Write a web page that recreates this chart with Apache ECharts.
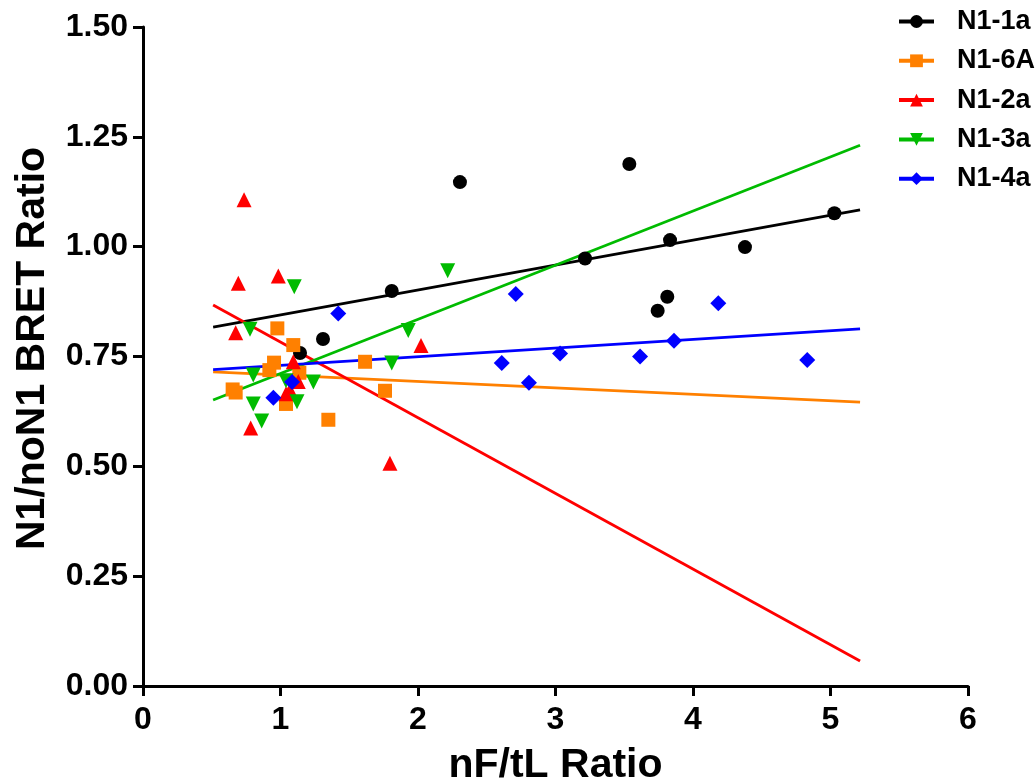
<!DOCTYPE html>
<html>
<head>
<meta charset="utf-8">
<script src="https://cdn.jsdelivr.net/npm/echarts@6/dist/echarts.min.js"></script>
<style>
html,body{margin:0;padding:0;background:#fff;overflow:hidden;}
#chart{width:1035px;height:781px;}
</style>
</head>
<body>
<div id="chart"></div>
<script>
// ---- data ----
var seriesNames = ['N1-1a', 'N1-6A', 'N1-2a', 'N1-3a', 'N1-4a'];
var xTicks = [0, 1, 2, 3, 4, 5, 6];
var yTicks = [0, 0.25, 0.5, 0.75, 1.0, 1.25, 1.5];

var n1_1a = [[1.142,0.758],[1.309,0.790],[1.809,0.899],[2.305,1.147],[3.215,0.973],[3.537,1.188],[3.743,0.854],[3.813,0.886],[3.833,1.015],[4.378,0.999],[5.028,1.076]];
var n1_6A = [[0.652,0.675],[0.674,0.668],[0.977,0.814],[1.093,0.776],[0.953,0.736],[0.919,0.719],[1.137,0.713],[1.040,0.642],[1.348,0.606],[1.615,0.738],[1.760,0.672]];
var n1_2a = [[0.735,1.107],[0.693,0.917],[0.984,0.933],[0.674,0.804],[2.022,0.775],[1.796,0.507],[0.783,0.587],[1.093,0.738],[1.129,0.693],[1.069,0.674],[1.040,0.665]];
var n1_3a = [[1.100,0.909],[0.778,0.812],[1.929,0.809],[1.809,0.735],[0.802,0.708],[1.040,0.695],[1.239,0.692],[1.120,0.647],[0.802,0.642],[0.863,0.603],[2.216,0.945]];
var n1_4a = [[1.420,0.848],[0.948,0.656],[2.711,0.892],[2.609,0.735],[3.033,0.757],[2.807,0.690],[3.615,0.750],[3.862,0.786],[4.184,0.871],[4.831,0.742],[1.084,0.692]];

// regression lines: y at start and end of fitted x range
var fitX = [0.51, 5.215];
var fit1_1a = [0.817, 1.084];
var fit1_6A = [0.715, 0.646];
var fit1_2a = [0.867, 0.057];
var fit1_3a = [0.651, 1.231];
var fit1_4a = [0.720, 0.813];

// ---- styling ----
var colors = ['#000000', '#FF8000', '#FF0000', '#00BB00', '#0000FF'];
var symbols = ['circle', 'rect', 'triangle', 'triangle', 'diamond'];
var rotates = [0, 0, 0, 180, 0];
var sizes = [14, 14, 15, 15, 16];
var points = [n1_1a, n1_6A, n1_2a, n1_3a, n1_4a];
var fits = [fit1_1a, fit1_6A, fit1_2a, fit1_3a, fit1_4a];
var FONT = '"Liberation Sans", Arial, sans-serif';

var series = [];
seriesNames.forEach(function (name, i) {
  series.push({
    name: name,
    type: 'line',
    data: fitX.map(function (x, k) { return [x, fits[i][k]]; }),
    symbol: symbols[i],
    symbolRotate: rotates[i],
    showSymbol: false,
    lineStyle: { color: colors[i], width: 2.8 },
    itemStyle: { color: colors[i] },
    silent: true,
    animation: false,
    z: 2
  });
});
seriesNames.forEach(function (name, i) {
  series.push({
    name: name,
    type: 'scatter',
    data: points[i],
    symbol: symbols[i],
    symbolRotate: rotates[i],
    symbolSize: sizes[i],
    itemStyle: { color: colors[i], opacity: 1 },
    animation: false,
    z: 3
  });
});

var chart = echarts.init(document.getElementById('chart'), null, { renderer: 'canvas' });
chart.setOption({
  backgroundColor: '#ffffff',
  animation: false,
  grid: { left: 143, right: 67, top: 27, bottom: 95, containLabel: false, outerBoundsMode: 'none' },
  legend: {
    orient: 'vertical',
    left: 897,
    top: 8,
    padding: 0,
    itemWidth: 35,
    itemHeight: 16,
    itemGap: 12.3,
    data: seriesNames,
    lineStyle: { width: 4 },
    textStyle: { fontFamily: FONT, fontWeight: 'bold', fontSize: 27, color: '#000', padding: [0, 0, 0, 18] }
  },
  xAxis: {
    type: 'value',
    min: xTicks[0],
    max: xTicks[xTicks.length - 1],
    interval: 1,
    name: 'nF/tL Ratio',
    nameLocation: 'middle',
    nameGap: 59,
    nameTextStyle: { fontFamily: FONT, fontWeight: 'bold', fontSize: 41, color: '#000' },
    axisLine: { onZero: false, lineStyle: { color: '#000', width: 3 } },
    axisTick: { show: true, inside: false, length: 10, lineStyle: { color: '#000', width: 3 } },
    axisLabel: { margin: 18, fontFamily: FONT, fontWeight: 'bold', fontSize: 32, color: '#000' },
    splitLine: { show: false }
  },
  yAxis: {
    type: 'value',
    min: yTicks[0],
    max: yTicks[yTicks.length - 1],
    interval: 0.25,
    name: 'N1/noN1 BRET Ratio',
    nameLocation: 'middle',
    nameGap: 90,
    nameTextStyle: { fontFamily: FONT, fontWeight: 'bold', fontSize: 41, color: '#000', padding: [0, 0, 0, 16] },
    axisLine: { show: true, onZero: false, lineStyle: { color: '#000', width: 3 } },
    axisTick: { show: true, inside: false, length: 10, lineStyle: { color: '#000', width: 3 } },
    axisLabel: {
      margin: 15, fontFamily: FONT, fontWeight: 'bold', fontSize: 32, color: '#000',
      formatter: function (v) { return v.toFixed(2); }
    },
    splitLine: { show: false }
  },
  series: series
});
</script>
</body>
</html>
